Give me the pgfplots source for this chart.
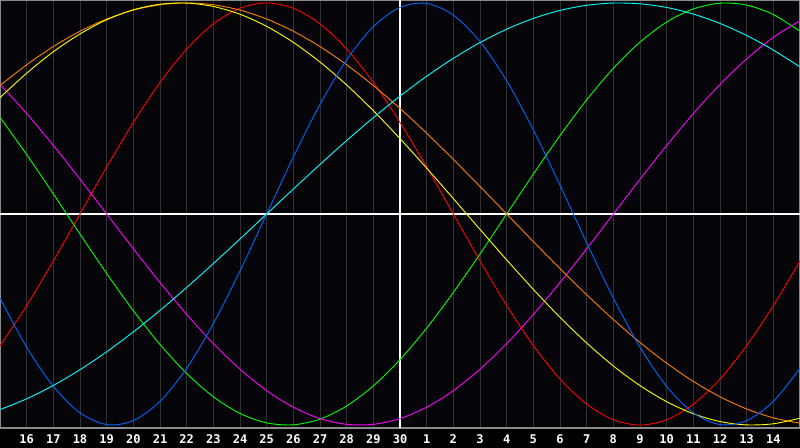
\documentclass[border=0pt]{standalone}
\usepackage{pgfplots}
\pgfplotsset{compat=1.18}
\usepackage{fontspec}
\setmonofont{DejaVu Sans Mono}

\definecolor{bgplot}{RGB}{5,5,9}
\definecolor{gridc}{RGB}{48,48,50}
\definecolor{framec}{RGB}{140,140,140}
\definecolor{cred}{RGB}{255,0,0}
\definecolor{cblue}{RGB}{0,102,255}
\definecolor{cgreen}{RGB}{0,255,0}
\definecolor{cmag}{RGB}{255,0,255}
\definecolor{corange}{RGB}{255,128,0}
\definecolor{cyel}{RGB}{255,255,0}
\definecolor{ccyan}{RGB}{0,255,255}

\begin{document}
\begin{tikzpicture}
\fill[black] (0,-20bp) rectangle (800bp,428bp);
\begin{axis}[
	at = {(0,0)},
	anchor = south west,
	scale only axis,
	width = 800bp,
	height = 428bp,
	xmin = 0, xmax = 30,
	ymin = -101.4, ymax = 101.4,
	axis background/.style = {fill = bgplot},
	axis line style = {framec, line width = 1.2bp},
	xtick = {1,...,29},
	xticklabels = {16,17,18,19,20,21,22,23,24,25,26,27,28,29,30,1,2,3,4,5,6,7,8,9,10,11,12,13,14},
	major tick length = 0pt,
	xmajorgrids,
	major grid style = {gridc, line width = 1bp},
	xticklabel style = {font = \fontsize{12bp}{12bp}\ttfamily\bfseries, text = white, anchor = base, yshift = -15.5bp},
	ytick = \empty,
	extra x ticks = {15},
	extra x tick labels = {},
	extra x tick style = {grid = major, major grid style = {white, line width = 1.1bp}},
	extra y ticks = {0},
	extra y tick labels = {},
	extra y tick style = {grid = major, major grid style = {white, line width = 1.1bp}},
	clip = true,
	every axis plot/.append style = {line width = 0.9bp, smooth, no markers}
]
% red, 28 days
\addplot[cred] coordinates {
	(0,-62.35) (1,-43.39) (2,-22.25) (3,0) (4,22.25) (5,43.39) (6,62.35) (7,78.18)
	(8,90.10) (9,97.49) (10,100) (11,97.49) (12,90.10) (13,78.18) (14,62.35) (15,43.39)
	(16,22.25) (17,0) (18,-22.25) (19,-43.39) (20,-62.35) (21,-78.18) (22,-90.10) (23,-97.49)
	(24,-100) (25,-97.49) (26,-90.10) (27,-78.18) (28,-62.35) (29,-43.39) (30,-22.25)
};
% green, 33 days
\addplot[cgreen] coordinates {
	(0,45.82) (1,28.17) (2,9.51) (3,-9.51) (4,-28.17) (5,-45.82) (6,-61.82) (7,-75.57)
	(8,-86.60) (9,-94.50) (10,-98.98) (11,-99.89) (12,-97.18) (13,-90.96) (14,-81.45) (15,-69.01)
	(16,-54.06) (17,-37.17) (18,-18.93) (19,0) (20,18.93) (21,37.17) (22,54.06) (23,69.01)
	(24,81.45) (25,90.96) (26,97.18) (27,99.89) (28,98.98) (29,94.50) (30,86.60)
};
% magenta, 38 days
\addplot[cmag] coordinates {
	(0,61.42) (1,47.59) (2,32.47) (3,16.46) (4,0) (5,-16.46) (6,-32.47) (7,-47.59)
	(8,-61.42) (9,-73.55) (10,-83.72) (11,-91.57) (12,-96.94) (13,-99.66) (14,-99.66) (15,-96.94)
	(16,-91.57) (17,-83.72) (18,-73.55) (19,-61.42) (20,-47.59) (21,-32.47) (22,-16.46) (23,0)
	(24,16.46) (25,32.47) (26,47.59) (27,61.42) (28,73.55) (29,83.72) (30,91.57)
};
% orange, 48 days
\addplot[corange] coordinates {
	(0,60.88) (1,70.71) (2,79.34) (3,86.60) (4,92.39) (5,96.59) (6,99.14) (7,100)
	(8,99.14) (9,96.59) (10,92.39) (11,86.60) (12,79.34) (13,70.71) (14,60.88) (15,50)
	(16,38.27) (17,25.88) (18,13.05) (19,0) (20,-13.05) (21,-25.88) (22,-38.27) (23,-50)
	(24,-60.88) (25,-70.71) (26,-79.34) (27,-86.60) (28,-92.39) (29,-96.59) (30,-99.14)
};
% yellow, 43 days
\addplot[cyel] coordinates {
	(0,55.18) (1,66.72) (2,76.88) (3,85.33) (4,92.03) (5,96.75) (6,99.40) (7,99.93)
	(8,98.34) (9,94.65) (10,88.93) (11,81.32) (12,72.00) (13,61.12) (14,48.95) (15,35.72)
	(16,21.74) (17,7.30) (18,-7.30) (19,-21.74) (20,-35.72) (21,-48.95) (22,-61.12) (23,-72.00)
	(24,-81.32) (25,-88.93) (26,-94.65) (27,-98.34) (28,-99.93) (29,-99.40) (30,-96.75)
};
% blue, 23 days
\addplot[cblue] coordinates {
	(0,-39.84) (1,-63.12) (2,-81.69) (3,-94.23) (4,-99.77) (5,-97.91) (6,-88.79) (7,-73.08)
	(8,-51.96) (9,-26.98) (10,0) (11,26.98) (12,51.96) (13,73.08) (14,88.79) (15,97.91)
	(16,99.77) (17,94.23) (18,81.69) (19,63.12) (20,39.84) (21,13.62) (22,-13.62) (23,-39.84)
	(24,-63.12) (25,-81.69) (26,-94.23) (27,-99.77) (28,-97.91) (29,-88.79) (30,-73.08)
};
% cyan, 53 days
\addplot[ccyan] coordinates {
	(0,-92.67) (1,-87.57) (2,-81.23) (3,-73.77) (4,-65.28) (5,-55.86) (6,-45.66) (7,-34.82)
	(8,-23.49) (9,-11.83) (10,0) (11,11.83) (12,23.49) (13,34.82) (14,45.66) (15,55.86)
	(16,65.28) (17,73.77) (18,81.23) (19,87.57) (20,92.67) (21,96.46) (22,98.90) (23,99.96)
	(24,99.60) (25,97.86) (26,94.73) (27,90.28) (28,84.57) (29,77.66) (30,69.68)
};
\end{axis}
\pgfresetboundingbox
\path[use as bounding box] (0,-20bp) rectangle (800bp,428bp);
\end{tikzpicture}
\end{document}
